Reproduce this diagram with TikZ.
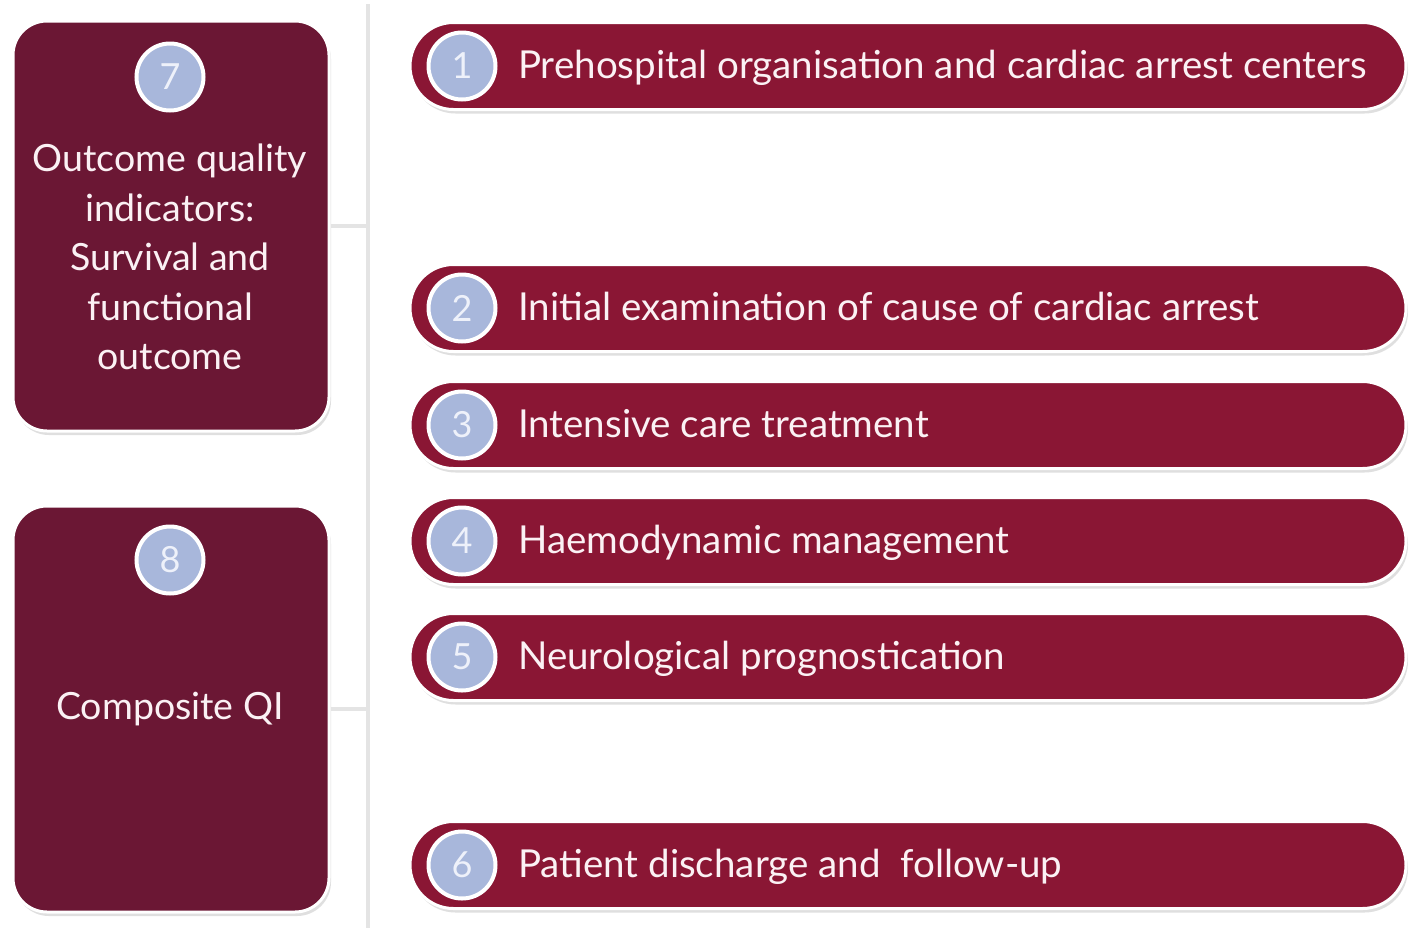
\documentclass[tikz,border=0pt]{standalone}
\usepackage{fontspec}
\setmainfont{Lato}
\usetikzlibrary{shadows}
\definecolor{pillred}{HTML}{8A1634}
\definecolor{boxwine}{HTML}{6B1734}
\definecolor{badgeblue}{HTML}{A8B7DB}
\definecolor{badgetext}{HTML}{EEF1FA}
\definecolor{textpink}{HTML}{FBF1F4}
\definecolor{spinegray}{HTML}{E4E4E4}
\begin{document}
\begin{tikzpicture}[x=1pt,y=-1pt,
  softshadow/.style={drop shadow={shadow xshift=2pt,shadow yshift=-4pt,opacity=0.25,fill=black!50}},
  pill/.style={rectangle,rounded corners=43.5pt,minimum width=996pt,minimum height=87pt,
    fill=pillred,draw=white,line width=3pt,softshadow,inner sep=0pt},
  sidebox/.style={rectangle,rounded corners=34pt,minimum width=316pt,
    fill=boxwine,draw=white,line width=3pt,softshadow,inner sep=0pt},
  badge/.style={circle,minimum size=67pt,inner sep=0pt,fill=badgeblue,draw=white,line width=4pt,
    text=badgetext,font=\fontsize{36}{36}\selectfont},
  pilltext/.style={anchor=base west,text=textpink,inner sep=0pt,font=\fontsize{38.5}{38.5}\selectfont},
  boxtext/.style={text=textpink,align=center,inner sep=0pt,font=\fontsize{37.5}{49.5}\selectfont},
  link/.style={draw=spinegray,line width=4pt}
]
\useasboundingbox (0,0) rectangle (1409,930);
\fill[white] (0,0) rectangle (1409,930);

% vertical spine and its branches
\coordinate (spinetop) at (368,4);
\coordinate (spinebot) at (368,928);
\draw[link] (spinetop) -- (spinebot);

% left-hand outcome boxes
\node[sidebox,minimum height=410pt] (box7) at (171,226) {};
\node[sidebox,minimum height=406pt] (box8) at (171,709) {};
\draw[link] (box7.east) -- (box7.east -| spinetop);
\draw[link] (box8.east) -- (box8.east -| spinetop);

\node[badge] (b7) at (170,77) {7};
\node[boxtext] (t7) at (170,257) {Outcome quality\\indicators:\\Survival and\\functional\\outcome};
\node[badge] (b8) at (170,560) {8};
\node[boxtext] (t8) at (170,709) {Composite QI};

% right-hand process steps
\foreach \n/\y/\label in {
  1/66/{Prehospital organisation and cardiac arrest centers},
  2/308/{Initial examination of cause of cardiac arrest},
  3/425/{Intensive care treatment},
  4/541/{Haemodynamic management},
  5/657/{Neurological prognostication},
  6/865/{Patient discharge and\ \ follow-up}}{
  \node[pill] (p\n) at (908,\y) {};
  \node[badge] (c\n) at (462,\y) {\n};
  \node[pilltext] (l\n) at (518,\y+12) {\label};
}
\end{tikzpicture}
\end{document}
